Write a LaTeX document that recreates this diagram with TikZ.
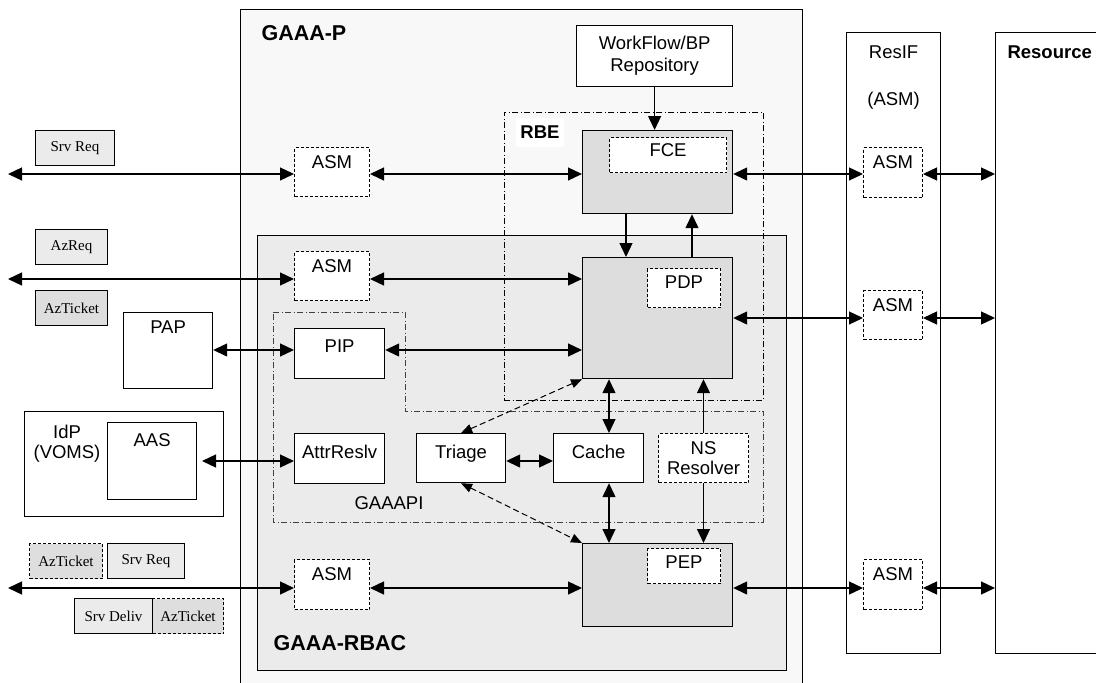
\documentclass[tikz,border=0pt]{standalone}
\usepackage{fontspec}
\setmainfont{Liberation Sans}
\newfontfamily\timesface{Liberation Serif}
\usetikzlibrary{arrows.meta}

\definecolor{outerfill}{RGB}{248,248,248}
\definecolor{rbacfill}{RGB}{235,235,235}
\definecolor{corefill}{RGB}{221,221,221}
\definecolor{msgfill}{RGB}{235,235,235}
\definecolor{tokfill}{RGB}{222,222,222}

\newcommand{\boxfont}{\fontsize{18.5}{20}\selectfont}
\newcommand{\msgfont}{\timesface\fontsize{15}{17}\selectfont}
\newcommand{\bigbold}{\bfseries\fontsize{21.5}{24}\selectfont}
\newcommand{\midbold}{\bfseries\fontsize{18.5}{20}\selectfont}

\tikzstyle{region} = [rectangle, anchor=north west, inner sep=0pt, draw=black, line width=1.2pt]
\tikzstyle{zone} = [region, line width=0.8pt, dash pattern=on 6pt off 2.5pt on 1pt off 2.5pt]
\tikzstyle{box} = [region, fill=white, font=\boxfont, align=center]
\tikzstyle{core} = [box, fill=corefill]
\tikzstyle{soft} = [box, line width=1pt, dash pattern=on 3pt off 2pt]
\tikzstyle{ttl} = [anchor=north, inner sep=0pt, draw=none, fill=none, font=\boxfont]
\tikzstyle{asmbox} = [soft, minimum width=75, minimum height=49, label={[ttl, yshift=-8]north:ASM}]
\tikzstyle{rasmbox} = [soft, minimum width=59, minimum height=49, label={[ttl, yshift=-8]north:ASM}]
\tikzstyle{msg} = [region, line width=1pt, fill=msgfill, font=\msgfont, minimum height=35]
\tikzstyle{token} = [msg, fill=tokfill, dash pattern=on 3pt off 2pt]
\tikzstyle{arrow} = [line width=1.3pt, <->, >={Triangle[length=14pt, width=13pt]}]
\tikzstyle{oneway} = [arrow, ->]
\tikzstyle{softlink} = [line width=1pt, dash pattern=on 6pt off 3.5pt, <->, >={Triangle[length=11pt, width=9pt]}]

\begin{document}
\begin{tikzpicture}[x=1pt, y=-1pt]

    \useasboundingbox (0,0) rectangle (1096,683);

    \node (gaaap) [region, fill=outerfill, minimum width=562, minimum height=700] at (240,9) {};
    \node (rbac) [region, fill=rbacfill, minimum width=529, minimum height=435] at (257,235) {};
    \node (rbe) [zone, minimum width=259, minimum height=288] at (504,112) {};
    \draw[zone, draw=black!75] (273,312) -- (405,312) -- (405,411) -- (763,411) -- (763,522) -- (273,522) -- cycle;

    \node (gaaapName) [anchor=west, font=\bigbold] at (258,33) {GAAA-P};
    \node (rbacName) [anchor=west, font=\bigbold] at (270,643) {GAAA-RBAC};
    \node (apiName) [anchor=west, font=\boxfont] at (351,503) {GAAAPI};
    \node (rbeName) [fill=white, font=\midbold, minimum width=48, minimum height=29, inner sep=0pt] at (540,132) {RBE};

    \node (resif) [region, fill=white, minimum width=94, minimum height=621,
        label={[ttl, yshift=-13.5]north:ResIF}, label={[ttl, yshift=-60]north:(ASM)}] at (846,32) {};
    \node (resource) [region, fill=white, minimum width=130, minimum height=621] at (995,32) {};
    \node (resName) [anchor=west, font=\midbold] at (1004,52) {Resource};

    \node (workflow) [box, minimum width=156, minimum height=61] at (576,25) {WorkFlow/BP\\[2pt]Repository};
    \node (fce) [core, minimum width=150, minimum height=83] at (582,130) {};
    \node (fceTag) [soft, minimum width=117, minimum height=35, label={[ttl, yshift=-6.5]north:FCE}] at (609,137) {};
    \node (pdp) [core, minimum width=150, minimum height=121] at (582,257) {};
    \node (pdpTag) [soft, minimum width=73, minimum height=39, label={[ttl, yshift=-7.5]north:PDP}] at (647,268) {};
    \node (pep) [core, minimum width=150, minimum height=83] at (582,543) {};
    \node (pepTag) [soft, minimum width=73, minimum height=35, label={[ttl, yshift=-7.5]north:PEP}] at (647,548) {};

    \node (asmA) [asmbox] at (294,147) {};
    \node (asmB) [asmbox] at (294,251) {};
    \node (asmC) [asmbox, minimum height=50] at (294,559) {};
    \node (rasmA) [rasmbox, minimum height=50] at (863,147) {};
    \node (rasmB) [rasmbox] at (863,290) {};
    \node (rasmC) [rasmbox, minimum height=50] at (863,559) {};

    \node (pip) [box, minimum width=90, minimum height=50, label={[ttl, yshift=-11.5]north:PIP}] at (294,328) {};
    \node (attr) [box, minimum width=90, minimum height=50, label={[ttl, yshift=-11.5]north:AttrReslv}] at (294,433) {};
    \node (triage) [box, minimum width=89, minimum height=49, label={[ttl, yshift=-11.5]north:Triage}] at (416,433) {};
    \node (cache) [box, minimum width=90, minimum height=49, label={[ttl, yshift=-11.5]north:Cache}] at (553,433) {};
    \node (ns) [soft, minimum width=90, minimum height=49] at (658,433) {NS\\Resolver};

    \node (pap) [box, minimum width=89, minimum height=76, label={[ttl, yshift=-8.5]north:PAP}] at (123,312) {};
    \node (idp) [region, fill=white, minimum width=199, minimum height=105] at (24,411) {};
    \node (idpName) [font=\boxfont, align=center] at (67,444) {IdP\\(VOMS)};
    \node (aas) [box, minimum width=89, minimum height=77, label={[ttl, yshift=-11.5]north:AAS}] at (107,422) {};

    \node (srvReq) [msg, minimum width=79] at (35,130) {Srv Req};
    \node (azReq) [msg, minimum width=72] at (35,229) {AzReq};
    \node (azTicket) [msg, fill=tokfill, minimum width=72] at (35,290) {AzTicket};
    \node (azTicketIn) [token, minimum width=73] at (29,543) {AzTicket};
    \node (srvReqIn) [msg, minimum width=77] at (107,543) {Srv Req};
    \node (srvDeliv) [msg, minimum width=78] at (74,598) {Srv Deliv};
    \node (azTicketOut) [token, minimum width=71] at (152,598) {AzTicket};

    \coordinate (laneA) at (8,174);
    \coordinate (laneB) at (8,279);
    \coordinate (laneR) at (8,318);
    \coordinate (laneP) at (8,350);
    \coordinate (laneC) at (8,588);
    \coordinate (aasTip) at (202,461);
    \coordinate (downX) at (626,0);
    \coordinate (upX) at (692,0);
    \coordinate (cacheX) at (609,0);

    \draw[arrow] (laneA) -- (laneA -| asmA.west);
    \draw[arrow] (laneA -| asmA.east) -- (laneA -| fce.west);
    \draw[arrow] (laneA -| fce.east) -- (laneA -| rasmA.west);
    \draw[arrow] (laneA -| rasmA.east) -- (laneA -| resource.west);

    \draw[arrow] (laneB) -- (laneB -| asmB.west);
    \draw[arrow] (laneB -| asmB.east) -- (laneB -| pdp.west);
    \draw[arrow] (laneR -| pdp.east) -- (laneR -| rasmB.west);
    \draw[arrow] (laneR -| rasmB.east) -- (laneR -| resource.west);

    \draw[arrow] (laneP -| pap.east) -- (laneP -| pip.west);
    \draw[arrow] (laneP -| pip.east) -- (laneP -| pdp.west);
    \draw[arrow] (aasTip) -- (aasTip -| attr.west);
    \draw[arrow] (aasTip -| triage.east) -- (aasTip -| cache.west);

    \draw[arrow] (laneC) -- (laneC -| asmC.west);
    \draw[arrow] (laneC -| asmC.east) -- (laneC -| pep.west);
    \draw[arrow] (laneC -| pep.east) -- (laneC -| rasmC.west);
    \draw[arrow] (laneC -| rasmC.east) -- (laneC -| resource.west);

    \draw[oneway] (workflow.south) -- (workflow.south |- fce.north);
    \draw[oneway] (fce.south -| downX) -- (pdp.north -| downX);
    \draw[oneway] (pdp.north -| upX) -- (fce.south -| upX);
    \draw[arrow] (cache.north -| cacheX) -- (pdp.south -| cacheX);
    \draw[arrow] (cache.south -| cacheX) -- (pep.north -| cacheX);
    \draw[oneway] (ns.north) -- (ns.north |- pdp.south);
    \draw[oneway] (ns.south) -- (ns.south |- pep.north);
    \draw[softlink] (pdp.south west) -- (triage.north);
    \draw[softlink] (triage.south) -- (pep.north west);

\end{tikzpicture}
\end{document}
